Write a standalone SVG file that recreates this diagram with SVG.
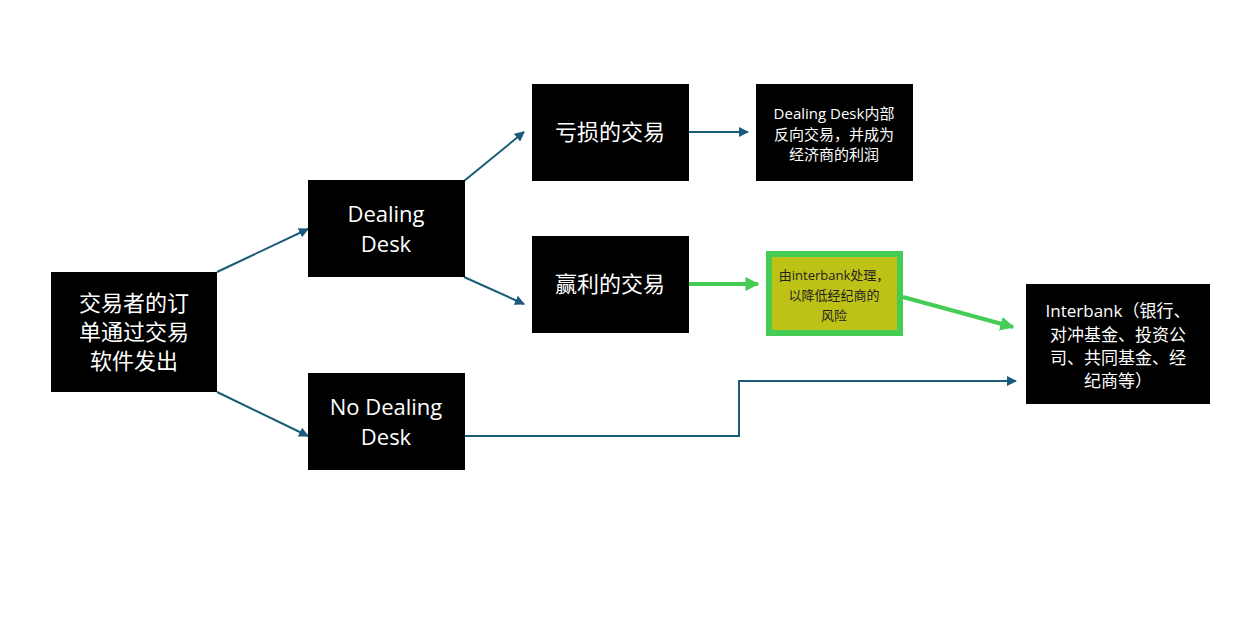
<svg xmlns="http://www.w3.org/2000/svg" width="1257" height="626" viewBox="0 0 1257 626">
<style>
.n{fill:#000}
.t{fill:#fff;font-family:"Open Sans","Noto Sans CJK SC",sans-serif;text-anchor:middle}
.c{stroke:#1a5b7a;stroke-width:2;fill:none}
.g{stroke:#44cc55;stroke-width:4;fill:none}
</style>
<defs>
<marker id="a" viewBox="0 0 10 10" refX="9" refY="5" markerWidth="5" markerHeight="5" orient="auto"><path d="M0,0L10,5L0,10z" fill="#1a5b7a"/></marker>
<marker id="ag" viewBox="0 0 10 10" refX="9" refY="5" markerWidth="3.5" markerHeight="3.5" orient="auto"><path d="M0,0L10,5L0,10z" fill="#44cc55"/></marker>
</defs>
<rect width="1257" height="626" fill="#fff"/>
<g id="connectors">
<path class="c" d="M217,272L308,229" marker-end="url(#a)"/>
<path class="c" d="M217,392L308,436" marker-end="url(#a)"/>
<path class="c" d="M464,181L524,132" marker-end="url(#a)"/>
<path class="c" d="M464,277L524,304" marker-end="url(#a)"/>
<path class="c" d="M689,132L748,132" marker-end="url(#a)"/>
<path class="c" d="M465,436H739V381H1016" marker-end="url(#a)"/>
<path class="g" d="M689,284L758,284" marker-end="url(#ag)"/>
<path class="g" d="M903,297L1013,327" marker-end="url(#ag)"/>
</g>
<g id="n1"><rect class="n" x="51" y="272" width="166" height="120"/><text class="t" font-size="22"><tspan x="134" y="311">交易者的订</tspan><tspan x="134" y="340">单通过交易</tspan><tspan x="134" y="369">软件发出</tspan></text></g>
<g id="n2"><rect class="n" x="308" y="180" width="157" height="97"/><text class="t" font-size="22"><tspan x="386" y="222">Dealing</tspan><tspan x="386" y="252">Desk</tspan></text></g>
<g id="n3"><rect class="n" x="308" y="373" width="157" height="97"/><text class="t" font-size="22"><tspan x="386" y="415">No Dealing</tspan><tspan x="386" y="445">Desk</tspan></text></g>
<g id="n4"><rect class="n" x="532" y="84" width="157" height="97"/><text class="t" font-size="22" x="610" y="140">亏损的交易</text></g>
<g id="n5"><rect class="n" x="532" y="236" width="157" height="97"/><text class="t" font-size="22" x="610" y="292">赢利的交易</text></g>
<g id="n6"><rect class="n" x="756" y="84" width="157" height="97"/><text class="t" font-size="15"><tspan x="834" y="119">Dealing Desk内部</tspan><tspan x="834" y="140">反向交易，并成为</tspan><tspan x="834" y="160">经济商的利润</tspan></text></g>
<g id="n7"><rect x="769" y="254" width="131" height="79" fill="#bfc216" stroke="#44cc55" stroke-width="6"/><text class="t" font-size="13" style="fill:#222"><tspan x="834" y="280">由interbank处理，</tspan><tspan x="834" y="300">以降低经纪商的</tspan><tspan x="834" y="320">风险</tspan></text></g>
<g id="n8"><rect class="n" x="1026" y="284" width="184" height="120"/><text class="t" font-size="17"><tspan x="1118" y="317">Interbank（银行、</tspan><tspan x="1118" y="341">对冲基金、投资公</tspan><tspan x="1118" y="364">司、共同基金、经</tspan><tspan x="1118" y="387">纪商等）</tspan></text></g>
</svg>
